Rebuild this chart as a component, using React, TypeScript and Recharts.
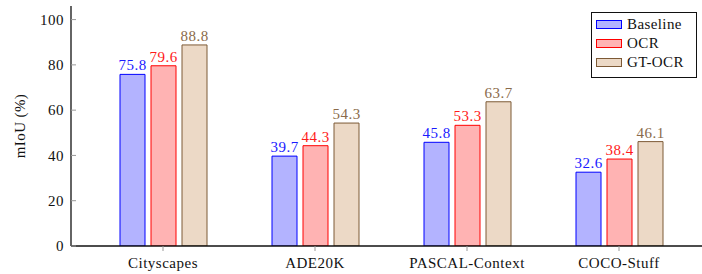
import { BarChart, Bar, XAxis, YAxis, LabelList, Legend } from 'recharts';

const datasets = ['Cityscapes', 'ADE20K', 'PASCAL-Context', 'COCO-Stuff'];
const baseline = [75.8, 39.7, 45.8, 32.6];
const ocr = [79.6, 44.3, 53.3, 38.4];
const gtOcr = [88.8, 54.3, 63.7, 46.1];
const yTicks = [0, 20, 40, 60, 80, 100];

const FONT = '"Liberation Serif", serif';

// series styling (pgfplots blue!30 / red!30 / brown!30 look)
const series = [
  { key: 'baseline', name: 'Baseline', fill: '#b3b3ff', stroke: '#0000ff', text: '#1a1aff' },
  { key: 'ocr', name: 'OCR', fill: '#ffb3b3', stroke: '#ff0000', text: '#ff1a1a' },
  { key: 'gtOcr', name: 'GT-OCR', fill: '#ecd9c6', stroke: '#7d5a36', text: '#8a6a4a' },
];

const data = datasets.map((name, i) => ({
  name,
  baseline: baseline[i],
  ocr: ocr[i],
  gtOcr: gtOcr[i],
}));

const tickStyle = {
  fill: '#111',
  fontFamily: FONT,
  fontSize: 15,
  style: { fontFamily: FONT, letterSpacing: 0.5 },
};

const LegendBox = () => (
  <div
    style={{
      border: '1px solid #111',
      background: '#fff',
      width: 104,
      height: 62,
      boxSizing: 'content-box',
      fontFamily: FONT,
      fontSize: 15,
      letterSpacing: 0.4,
      color: '#111',
      paddingTop: 2,
    }}
  >
    {series.map((s) => (
      <div key={s.key} style={{ display: 'flex', alignItems: 'center', height: 19, paddingLeft: 4 }}>
        <span
          style={{
            display: 'inline-block',
            width: 24,
            height: 7,
            background: s.fill,
            border: `1px solid ${s.stroke}`,
            marginRight: 5,
          }}
        />
        <span>{s.name}</span>
      </div>
    ))}
  </div>
);

export default function App() {
  return (
    <div
      style={{
        position: 'absolute',
        left: 0,
        top: 0,
        width: 702,
        height: 274,
        overflow: 'hidden',
        background: '#fff',
        fontFamily: FONT,
      }}
    >
      <BarChart
        width={720}
        height={274}
        data={data}
        margin={{ top: 6, right: 9, bottom: 0, left: 10 }}
        barSize={25}
        barGap={6}
        style={{ fontFamily: FONT }}
      >
        <XAxis
          dataKey="name"
          xAxisId="bottom"
          height={28}
          padding={{ left: 16, right: 16 }}
          axisLine={{ stroke: '#111', strokeWidth: 1.3 }}
          tickLine={{ stroke: '#999' }}
          tickSize={5}
          tickMargin={6}
          tick={tickStyle}
        />
        <XAxis
          dataKey="name"
          xAxisId="top"
          orientation="top"
          height={0}
          padding={{ left: 16, right: 16 }}
          axisLine={{ stroke: '#111', strokeWidth: 1.3 }}
          tickLine={{ stroke: '#999' }}
          tickSize={-5}
          tickFormatter={() => ''}
        />
        <YAxis
          width={61}
          domain={[0, 106]}
          ticks={yTicks}
          allowDataOverflow
          axisLine={{ stroke: '#111', strokeWidth: 1.3 }}
          tickLine={{ stroke: '#999' }}
          tickSize={-5}
          tickMargin={12}
          tick={tickStyle}
          label={{
            value: 'mIoU (%)',
            angle: -90,
            position: 'insideLeft',
            offset: 10,
            style: { textAnchor: 'middle', fill: '#111', fontFamily: FONT, fontSize: 15, letterSpacing: 0.4 },
          }}
        />
        <Legend
          layout="vertical"
          align="center"
          verticalAlign="middle"
          content={() => <LegendBox />}
          wrapperStyle={{ left: 591, top: 12, width: 'auto' }}
        />
        {series.map((s) => (
          <Bar
            key={s.key}
            xAxisId="bottom"
            dataKey={s.key}
            name={s.name}
            fill={s.fill}
            stroke={s.stroke}
            strokeWidth={1}
            isAnimationActive={false}
          >
            <LabelList
              dataKey={s.key}
              position="top"
              offset={4}
              fill={s.text}
              style={{ fontFamily: FONT, fontSize: 15, letterSpacing: 0.5 }}
            />
          </Bar>
        ))}
      </BarChart>
    </div>
  );
}
